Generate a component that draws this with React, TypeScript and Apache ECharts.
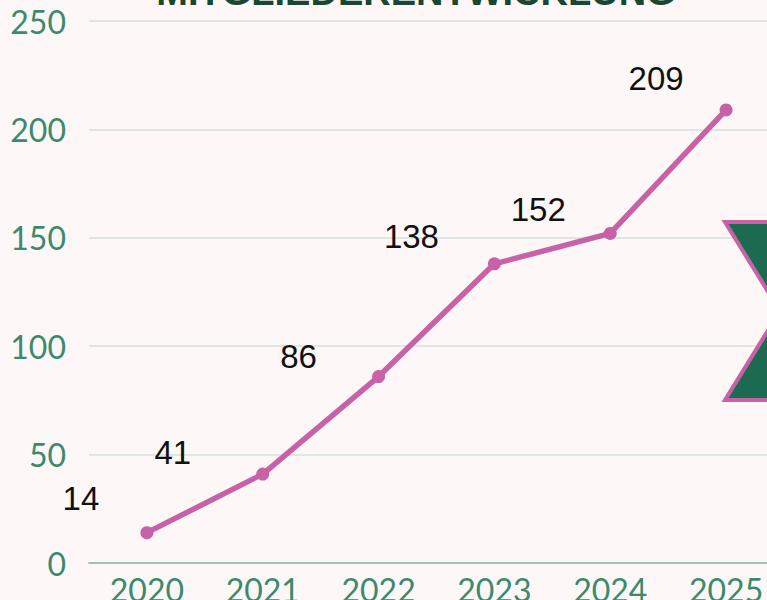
import React, { useEffect, useRef } from "react";
import * as echarts from "echarts";

const years = ["2020", "2021", "2022", "2023", "2024", "2025"];
const members = [14, 41, 86, 138, 152, 209];
const yTicks = { min: 0, max: 250, interval: 50 };
const titleText = "MITGLIEDERENTWICKLUNG";
// label offsets (styling) relative to each point
const labelOffsets: [number, number][] = [
  [-66, -34],
  [-90, -22],
  [-80, -20],
  [-83, -27],
  [-72, -24],
  [-70, -31],
];

export default function App() {
  const ref = useRef<HTMLDivElement>(null);
  useEffect(() => {
    if (!ref.current) return;
    const chart = echarts.init(ref.current, null, { renderer: "svg" });
    const pink = "#c862a8";
    const green = "#3b8a6b";
    chart.setOption({
      animation: false,
      backgroundColor: "#fdf7f7",
      title: {
        text: titleText,
        left: 411,
        textAlign: "center",
        top: -32,
        textStyle: {
          fontSize: 38,
          fontWeight: 900,
          fontFamily: "Liberation Sans, Arial, sans-serif",
          color: "#1a4632",
        },
      },
      grid: {
        left: 89,
        top: 21,
        width: 695,
        height: 542,
        containLabel: false,
        outerBoundsMode: "none",
      },
      xAxis: {
        type: "category",
        data: years,
        boundaryGap: true,
        axisLine: { show: true, lineStyle: { color: "#9fc6b1", width: 2 } },
        axisTick: { show: false },
        axisLabel: {
          fontSize: 32,
          fontFamily: "Lato, sans-serif",
          color: green,
          margin: 10,
        },
        splitLine: { show: false },
      },
      yAxis: {
        type: "value",
        min: yTicks.min,
        max: yTicks.max,
        interval: yTicks.interval,
        axisLine: { show: false },
        axisTick: { show: false },
        axisLabel: {
          fontSize: 32,
          fontFamily: "Lato, sans-serif",
          color: green,
          margin: 23,
        },
        splitLine: { show: true, lineStyle: { color: "#d9e1dc", width: 1.5 } },
      },
      graphic: [
        {
          type: "polygon",
          shape: { points: [[725, 222], [840, 222], [780, 311]] },
          style: { fill: "#1c6b50", stroke: pink, lineWidth: 4 },
          z: 100,
        },
        {
          type: "polygon",
          shape: { points: [[725, 400], [840, 400], [780, 311]] },
          style: { fill: "#1c6b50", stroke: pink, lineWidth: 4 },
          z: 100,
        },
      ],
      series: [
        {
          type: "line",
          data: members.map((v, i) => ({
            value: v,
            label: { offset: labelOffsets[i] },
          })),
          symbol: "circle",
          symbolSize: 13,
          lineStyle: { color: pink, width: 5.5 },
          itemStyle: { color: pink },
          label: {
            show: true,
            position: "inside",
            fontSize: 33,
            fontFamily: "Liberation Sans, Arial, sans-serif",
            color: "#111111",
          },
        },
      ],
    });
    return () => chart.dispose();
  }, []);
  return (
    <div
      ref={ref}
      style={{ position: "fixed", left: 0, top: 0, width: 767, height: 600, overflow: "hidden" }}
    />
  );
}
